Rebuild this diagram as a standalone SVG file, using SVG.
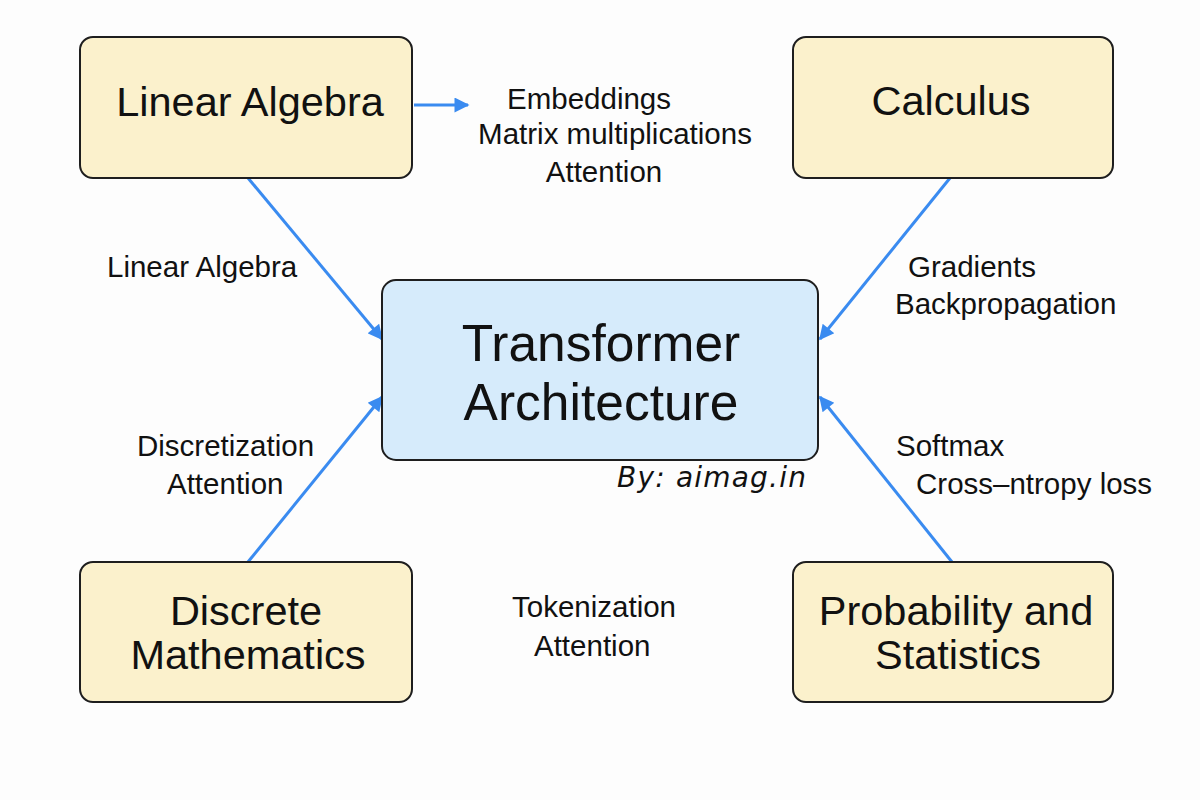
<svg xmlns="http://www.w3.org/2000/svg" width="1200" height="800" viewBox="0 0 1200 800">
<defs>
<marker id="ah" viewBox="0 0 10 10" refX="9" refY="5" markerWidth="5.5" markerHeight="5" orient="auto" markerUnits="strokeWidth">
<path d="M0,0 L10,5 L0,10 z" fill="#3a8bf0"/>
</marker>
<style>
.box{fill:#fbf1cc;stroke:#1e1e1e;stroke-width:2}
.main{fill:#d6ebfb;stroke:#1e1e1e;stroke-width:2}
.t{font-family:"Liberation Sans",Arial,sans-serif;fill:#111;text-anchor:middle}
.big{font-size:41.5px}
.huge{font-size:51.5px}
.lbl{font-family:"Liberation Sans",Arial,sans-serif;fill:#111;font-size:29.5px}
.c{stroke:#3a8bf0;stroke-width:3;fill:none;marker-end:url(#ah)}
</style>
</defs>
<rect width="1200" height="800" fill="#fdfdfd"/>
<g id="connectors">
<line class="c" x1="414" y1="105" x2="468" y2="105"/>
<line class="c" x1="248" y1="178" x2="382" y2="339"/>
<line class="c" x1="950" y1="178" x2="820" y2="339"/>
<line class="c" x1="248" y1="562" x2="382" y2="397"/>
<line class="c" x1="952" y1="562" x2="820" y2="397"/>
</g>
<g id="linear-algebra">
<rect class="box" x="80" y="37" width="332" height="141" rx="13"/>
<text class="t big" x="250" y="116">Linear Algebra</text>
</g>
<g id="calculus">
<rect class="box" x="793" y="37" width="320" height="141" rx="13"/>
<text class="t big" x="951" y="115">Calculus</text>
</g>
<g id="transformer">
<rect class="main" x="382" y="280" width="436" height="180" rx="14"/>
<text class="t huge" x="601" y="361">Transformer</text>
<text class="t huge" x="601" y="420">Architecture</text>
</g>
<g id="discrete">
<rect class="box" x="80" y="562" width="332" height="140" rx="13"/>
<text class="t big" x="246" y="625">Discrete</text>
<text class="t big" x="248" y="669">Mathematics</text>
</g>
<g id="probability">
<rect class="box" x="793" y="562" width="320" height="140" rx="13"/>
<text class="t big" x="956" y="625">Probability and</text>
<text class="t big" x="958" y="669">Statistics</text>
</g>
<g id="labels">
<text class="lbl" x="589" y="109" text-anchor="middle">Embeddings</text>
<text class="lbl" x="615" y="144" text-anchor="middle">Matrix multiplications</text>
<text class="lbl" x="604" y="182" text-anchor="middle">Attention</text>
<text class="lbl" x="107" y="277">Linear Algebra</text>
<text class="lbl" x="908" y="277">Gradients</text>
<text class="lbl" x="895" y="314">Backpropagation</text>
<text class="lbl" x="137" y="456">Discretization</text>
<text class="lbl" x="167" y="494">Attention</text>
<text class="lbl" x="896" y="456">Softmax</text>
<text class="lbl" x="916" y="494">Cross–ntropy loss</text>
<text class="lbl" x="512" y="617">Tokenization</text>
<text class="lbl" x="534" y="656">Attention</text>
<text x="617" y="487" style="font-family:'DejaVu Sans',sans-serif;font-size:28px;font-style:italic;letter-spacing:1.2px;fill:#111">By: aimag.in</text>
</g>
</svg>
